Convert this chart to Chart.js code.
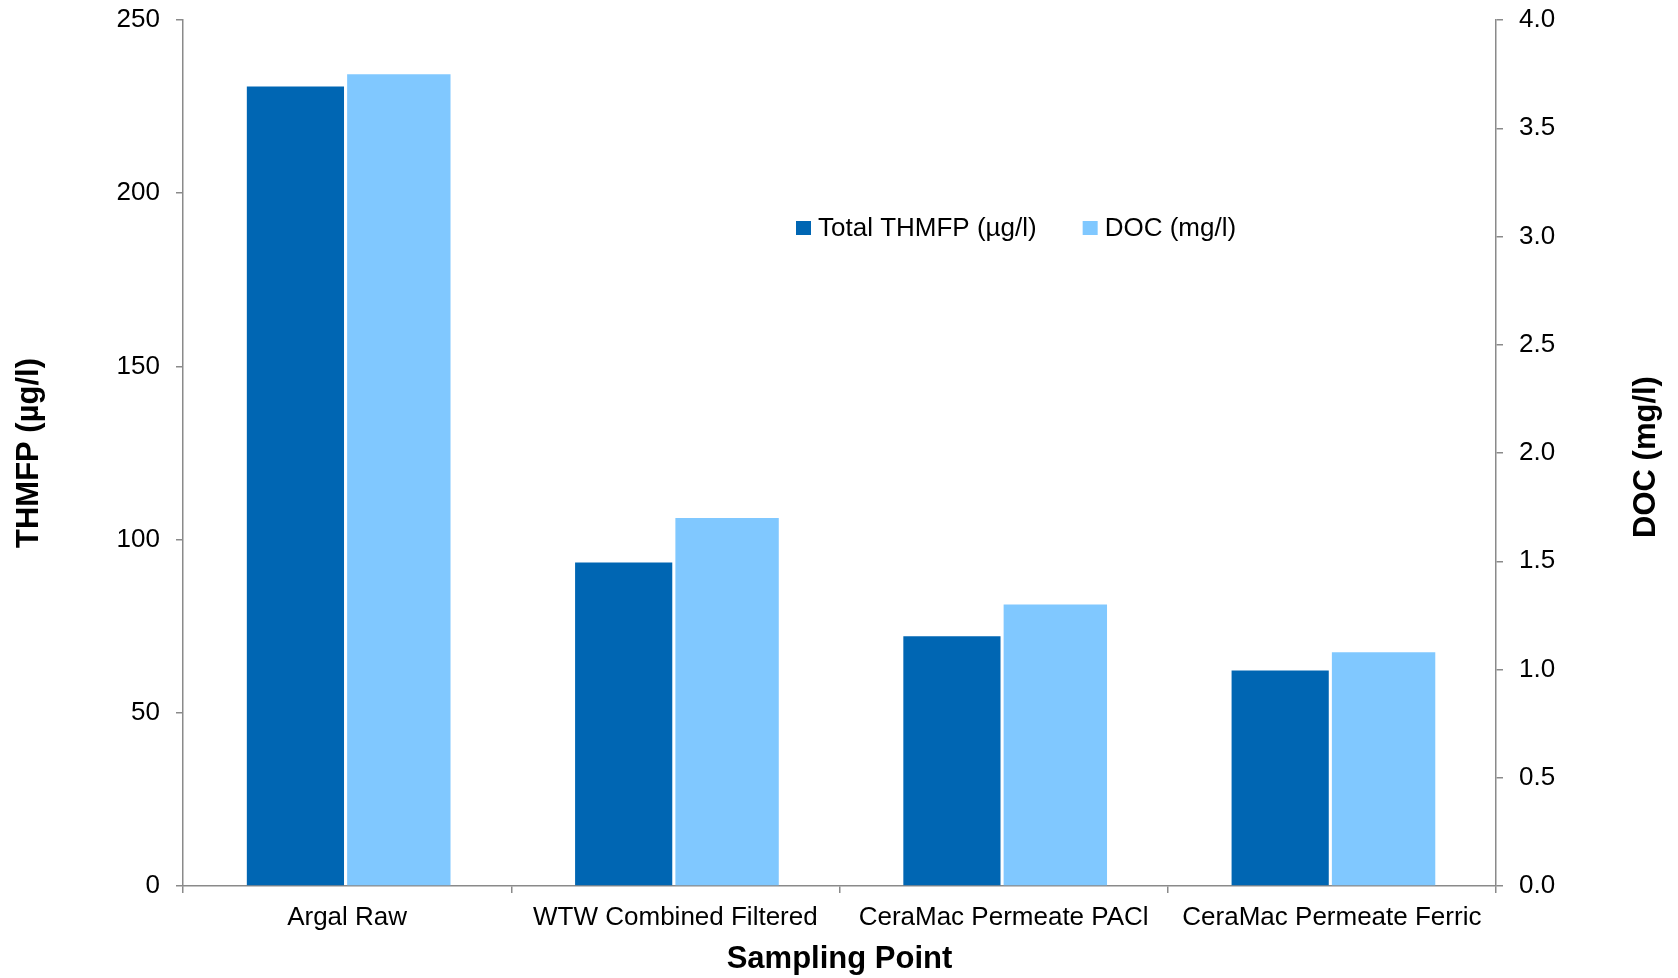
<!DOCTYPE html>
<html>
<head>
<meta charset="utf-8">
<script src="https://cdn.jsdelivr.net/npm/chart.js@4/dist/chart.umd.min.js"></script>
<style>
  html, body { margin: 0; padding: 0; background: #fff; }
  #wrap { width: 1678px; height: 978px; }
</style>
</head>
<body>
<div id="wrap"><canvas id="c" width="1678" height="978"></canvas></div>
<script>
// data
const categories = ['Argal Raw', 'WTW Combined Filtered', 'CeraMac Permeate PACl', 'CeraMac Permeate Ferric']
const thmfpValues = [230.8, 93.4, 72.1, 62.2]   // µg/l, left axis
const docValues = [3.75, 1.70, 1.30, 1.08]       // mg/l, right axis
const leftTicks = [0, 50, 100, 150, 200, 250]
const rightTicks = [0, 0.5, 1.0, 1.5, 2.0, 2.5, 3.0, 3.5, 4.0]

const FONT = '"Liberation Sans", Arial, sans-serif'
const DARK = '#0066b3'
const LIGHT = '#80c8ff'
const AXIS = '#8a8a8a'

// legend sits inside the plot, right of centre; right title reads bottom-up
const extras = {
  id: 'extras',
  afterDraw(chart) {
    const ctx = chart.ctx
    ctx.save()
    ctx.font = '26px ' + FONT
    ctx.textBaseline = 'middle'
    ctx.textAlign = 'left'
    let x = 796
    const y = 228
    chart.data.datasets.forEach(ds => {
      ctx.fillStyle = ds.backgroundColor
      ctx.fillRect(x, y - 7, 15, 14)
      ctx.fillStyle = '#000'
      ctx.fillText(ds.label, x + 22, y + 1)
      x += 22 + ctx.measureText(ds.label).width + 46
    })

    ctx.font = 'bold 31px ' + FONT
    ctx.textAlign = 'center'
    ctx.translate(1646, (chart.chartArea.top + chart.chartArea.bottom) / 2 + 4)
    ctx.rotate(-Math.PI / 2)
    ctx.fillText('DOC (mg/l)', 0, 0)
    ctx.restore()
  }
}

const tickFont = { family: FONT, size: 26 }
const titleFont = { family: FONT, size: 31, weight: 'bold', lineHeight: 1.2 }

// fixed axis boxes so the plot lands where the original one is
function fitY(width) {
  return s => { s.width = width; s.paddingTop = 0; s.paddingBottom = 0 }
}

new Chart(document.getElementById('c'), {
  type: 'bar',
  data: {
    labels: categories,
    datasets: [
      { label: 'Total THMFP (µg/l)', data: thmfpValues, yAxisID: 'y', backgroundColor: DARK, barPercentage: 0.94 },
      { label: 'DOC (mg/l)', data: docValues, yAxisID: 'y2', backgroundColor: LIGHT, barPercentage: 1.0 }
    ]
  },
  options: {
    responsive: false,
    animation: false,
    layout: { padding: { top: 20, left: 0, right: 0, bottom: 0 } },
    datasets: { bar: { categoryPercentage: 0.63 } },
    plugins: {
      legend: { display: false },
      tooltip: { enabled: false }
    },
    scales: {
      x: {
        afterFit(s) { s.height = 92; s.paddingLeft = 0; s.paddingRight = 0 },
        border: { color: AXIS, width: 1.5 },
        grid: { drawOnChartArea: false, drawTicks: true, tickLength: 7, color: AXIS, lineWidth: 1.5, offset: true },
        ticks: { color: '#000', font: tickFont, padding: 9, maxRotation: 0, autoSkip: false },
        title: { display: true, text: 'Sampling Point', color: '#000', font: titleFont, padding: { top: 0, bottom: 0 } }
      },
      y: {
        position: 'left',
        min: 0, max: 250,
        afterFit: fitY(183),
        afterBuildTicks(s) { s.ticks = leftTicks.map(v => ({ value: v })) },
        border: { color: AXIS, width: 1.5 },
        grid: { drawOnChartArea: false, drawTicks: true, tickLength: 7, color: AXIS, lineWidth: 1.5 },
        ticks: { color: '#000', font: tickFont, padding: 16 },
        title: { display: true, text: 'THMFP (µg/l)', color: '#000', font: titleFont, padding: { top: 11, bottom: 0 } }
      },
      y2: {
        position: 'right',
        min: 0, max: 4,
        afterFit: fitY(182),
        afterBuildTicks(s) { s.ticks = rightTicks.map(v => ({ value: v })) },
        border: { color: AXIS, width: 1.5 },
        grid: { drawOnChartArea: false, drawTicks: true, tickLength: 7, color: AXIS, lineWidth: 1.5 },
        ticks: { color: '#000', font: tickFont, padding: 16, callback: v => v.toFixed(1) },
        title: { display: false }
      }
    }
  },
  plugins: [extras]
})
</script>
</body>
</html>
